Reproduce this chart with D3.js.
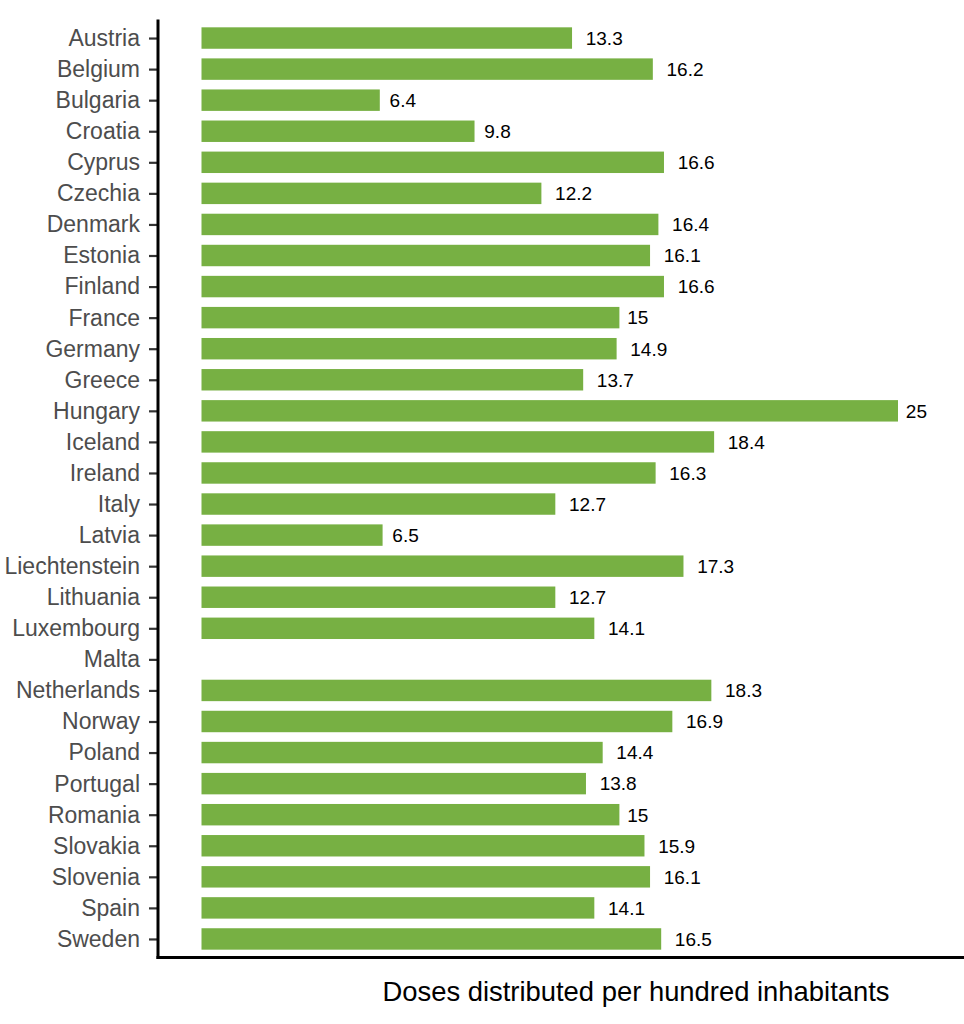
<!DOCTYPE html>
<html><head><meta charset="utf-8">
<script src="https://cdn.jsdelivr.net/npm/d3@7"></script>
<style>body{margin:0;background:#fff;} svg{display:block;}</style>
</head><body>
<script>
const countries = ["Austria","Belgium","Bulgaria","Croatia","Cyprus","Czechia","Denmark","Estonia","Finland","France","Germany","Greece","Hungary","Iceland","Ireland","Italy","Latvia","Liechtenstein","Lithuania","Luxembourg","Malta","Netherlands","Norway","Poland","Portugal","Romania","Slovakia","Slovenia","Spain","Sweden"];
const doses = [13.3,16.2,6.4,9.8,16.6,12.2,16.4,16.1,16.6,15,14.9,13.7,25,18.4,16.3,12.7,6.5,17.3,12.7,14.1,null,18.3,16.9,14.4,13.8,15,15.9,16.1,14.1,16.5];
const xTitle = "Doses distributed per hundred inhabitants";

(function () {
const W = 964, H = 1024;
const font = "'Liberation Sans', Arial, sans-serif";
const svg = d3.select("body").append("svg").attr("width", W).attr("height", H);

const axisX = 158, yTop = 19.4, yBottom = 957.6;
const x = d3.scaleLinear().domain([0, 25]).range([201.5, 898]);
const y = d3.scalePoint().domain(countries).range([yTop, yBottom]).padding(0.6);
const bh = y.step() * 0.69;

const data = countries.map((c, i) => ({c, v: doses[i]}));

svg.append("g").selectAll("rect").data(data.filter(d => d.v != null)).join("rect")
  .attr("x", x(0)).attr("y", d => y(d.c) - bh / 2)
  .attr("width", d => x(d.v) - x(0)).attr("height", bh)
  .attr("fill", "#77b043");

const labels = svg.append("g").selectAll("text").data(data.filter(d => d.v != null)).join("text")
  .attr("y", d => y(d.c)).attr("dy", "0.36em")
  .attr("font-family", font).attr("font-size", 19).attr("fill", "#000")
  .text(d => d3.format("")(d.v));
labels.each(function(d) {
  const w = this.getComputedTextLength();
  d3.select(this).attr("x", x(d.v) + 0.37 * w);
});

const yAxis = d3.axisLeft(y).tickSize(9).tickPadding(9);
const gy = svg.append("g").attr("transform", `translate(${axisX},0)`).call(yAxis);
gy.select(".domain").remove();
gy.selectAll(".tick line").attr("stroke", "#333").attr("stroke-width", 2.2);
gy.selectAll(".tick text").attr("font-family", font).attr("font-size", 23).attr("fill", "#4d4d4d");

svg.append("line").attr("x1", axisX).attr("x2", axisX).attr("y1", yTop).attr("y2", yBottom + 1.5)
  .attr("stroke", "#000").attr("stroke-width", 3);
svg.append("line").attr("x1", axisX - 1.5).attr("x2", W).attr("y1", yBottom).attr("y2", yBottom)
  .attr("stroke", "#000").attr("stroke-width", 3);

svg.append("text").attr("x", 636).attr("y", 1001).attr("text-anchor", "middle")
  .attr("font-family", font).attr("font-size", 27.4).attr("fill", "#000").text(xTitle);
})();
</script>
</body></html>
